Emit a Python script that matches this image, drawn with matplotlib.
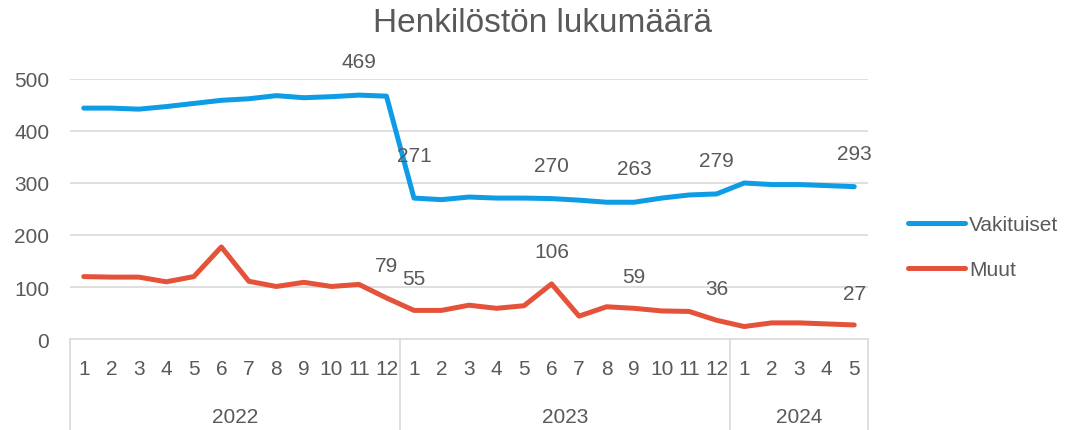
import matplotlib.pyplot as plt
from matplotlib.lines import Line2D

# data
months = [1, 2, 3, 4, 5, 6, 7, 8, 9, 10, 11, 12,
          1, 2, 3, 4, 5, 6, 7, 8, 9, 10, 11, 12,
          1, 2, 3, 4, 5]
years = ['2022', '2023', '2024']
year_counts = [12, 12, 5]
vakituiset = [444, 444, 442, 447, 453, 459, 462, 468, 464, 466, 469, 467,
              271, 268, 273, 271, 271, 270, 267, 263, 263, 271, 277, 279,
              300, 297, 297, 295, 293]
muut = [120, 119, 119, 110, 120, 177, 111, 101, 109, 101, 105, 79,
        55, 55, 65, 59, 64, 106, 44, 62, 59, 54, 53, 36,
        24, 31, 31, 29, 27]
label_idx_v = [10, 12, 17, 20, 23, 28]
label_idx_m = [11, 12, 17, 20, 23, 28]

plt.rcParams['font.family'] = ['Liberation Sans', 'DejaVu Sans']
txt = '#595959'
grid = '#D9D9D9'
blue = '#0E9DE5'
red = '#E5523A'
fs = 15

fig = plt.figure(figsize=(10.68, 4.31), dpi=100)
ax = fig.add_axes([70/1068, 1-340/431, 798/1068, 260/431])
x = list(range(len(months)))

ax.plot(x, vakituiset, color=blue, lw=3.6, solid_joinstyle='round', solid_capstyle='round', zorder=3)
ax.plot(x, muut, color=red, lw=3.6, solid_joinstyle='round', solid_capstyle='round', zorder=3)

# data labels above the points
for i in label_idx_v:
    up = 31 if i == 12 else 24
    ax.annotate(str(vakituiset[i]), (x[i], vakituiset[i]), xytext=(0, up), textcoords='offset points',
                ha='center', va='center', fontsize=fs, color=txt)
for i in label_idx_m:
    ax.annotate(str(muut[i]), (x[i], muut[i]), xytext=(0, 23), textcoords='offset points',
                ha='center', va='center', fontsize=fs, color=txt)

ax.set_xlim(-0.5, len(months) - 0.5)
ax.set_ylim(0, 500)
ax.set_yticks([0, 100, 200, 300, 400, 500])
ax.set_yticklabels(['0', '100', '200', '300', '400', '500'])
ax.tick_params(axis='y', length=0, pad=15, labelsize=fs, labelcolor=txt)
ax.set_xticks([])
for y in [100, 200, 300, 400, 500]:
    ax.axhline(y, color=grid, lw=1.2, zorder=1)
for s in ['top', 'right', 'left']:
    ax.spines[s].set_visible(False)
ax.spines['bottom'].set_color(grid)
ax.spines['bottom'].set_linewidth(1.2)

# month labels and year groups below the axis
for i, m in enumerate(months):
    ax.annotate(str(m), (x[i], 0), xycoords='data', xytext=(0, -21.5), textcoords='offset points',
                ha='center', va='center', fontsize=fs, color=txt, annotation_clip=False)
start = 0
bounds = [-0.5]
for yr, n in zip(years, year_counts):
    mid = start + (n - 1) / 2
    ax.annotate(yr, (mid, 0), xycoords='data', xytext=(0, -56), textcoords='offset points',
                ha='center', va='center', fontsize=fs, color=txt, annotation_clip=False)
    start += n
    bounds.append(start - 0.5)
for b in bounds:
    ax.add_line(Line2D([b, b], [0, -175], color=grid, lw=1.2, clip_on=False))

fig.text(0.508, 0.945, 'Henkilöstön lukumäärä', ha='center', va='center', fontsize=24, color=txt)

handles = [Line2D([], [], color=blue, lw=3.6, solid_capstyle='round'),
           Line2D([], [], color=red, lw=3.6, solid_capstyle='round')]
fig.legend(handles, ['Vakituiset', 'Muut'], loc='center left', bbox_to_anchor=(0.833, 0.425),
           frameon=False, fontsize=fs, labelcolor=txt, handlelength=2.7, handletextpad=0.2,
           labelspacing=1.25)

fig.savefig('out.png', dpi=100)
